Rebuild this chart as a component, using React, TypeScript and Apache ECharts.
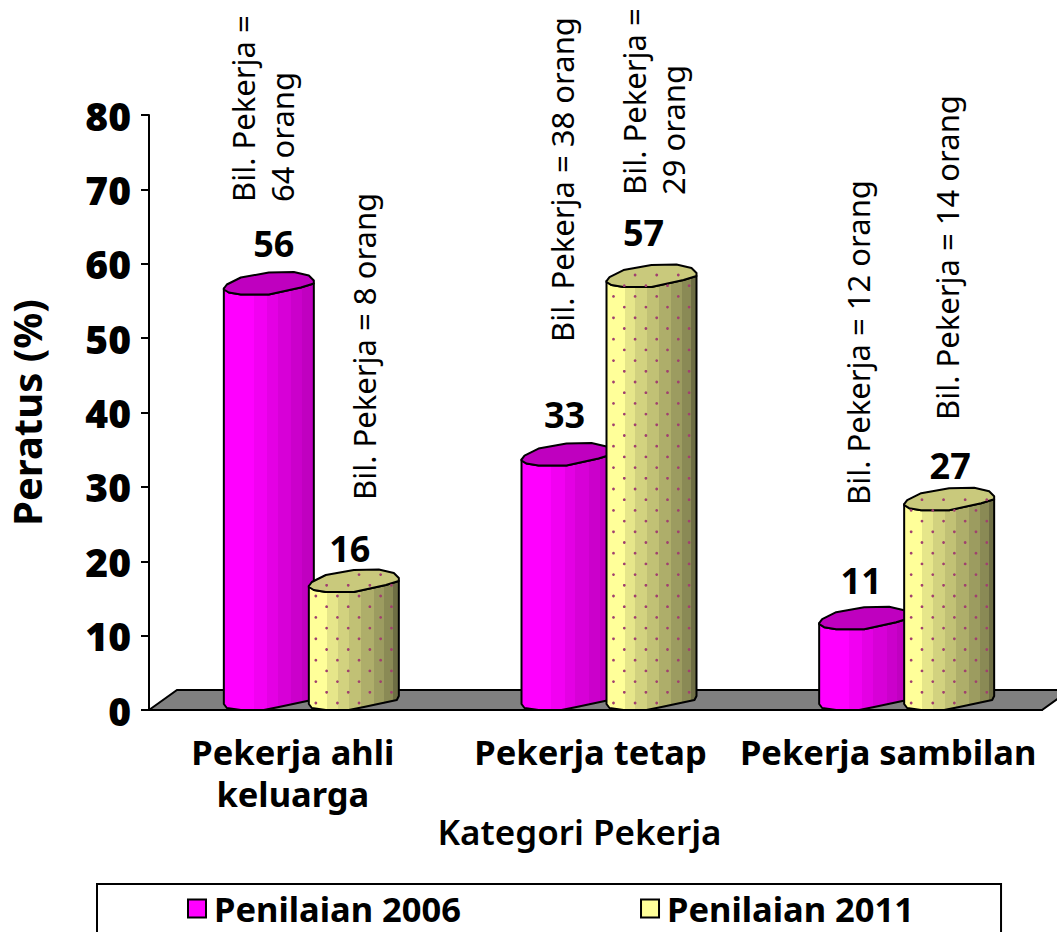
import React, { useEffect, useRef } from "react";
import * as echarts from "echarts";

const categories = ["Pekerja ahli\nkeluarga", "Pekerja tetap", "Pekerja sambilan"];
const seriesNames = ["Penilaian 2006", "Penilaian 2011"];
const values2006 = [56, 33, 11];
const values2011 = [16, 57, 27];
const yTicks = { min: 0, max: 80, interval: 10 };
const notes = [
  "Bil. Pekerja =\n64 orang",
  "Bil. Pekerja = 8 orang",
  "Bil. Pekerja = 38 orang",
  "Bil. Pekerja =\n29 orang",
  "Bil. Pekerja = 12 orang",
  "Bil. Pekerja = 14 orang",
];
const noteAnchors = [
  [262, 202],
  [364, 500],
  [562, 342],
  [653, 195],
  [858, 505],
  [947, 420],
];
const labelShift2006 = [[50, -50], [43, -50], [42, -48]];
const labelShift2011 = [[41, -43], [37, -54], [46, -44]];

const SANS = "'Noto Sans', sans-serif";

const topOutline = [[0, -5], [3, -9], [17, -16], [45, -21], [70, -21.5], [85, -18], [90, -13], [90, -10], [77, -6], [45, 1], [17, 1], [5, -1], [0, -4]];
const baseOutline = [[90, -14], [88, -10], [55, -3], [40, 0], [17, 0], [3, -2], [0, -6]];

const magentaStops = [[0, "#ff00ff"], [0.33, "#ff00ff"], [0.33, "#f200f2"], [0.48, "#f200f2"], [0.48, "#e400e4"], [0.6, "#e400e4"], [0.6, "#d700d7"], [0.75, "#d700d7"], [0.75, "#cb00cb"], [0.87, "#cb00cb"], [0.87, "#c000c0"], [1, "#c000c0"]];
const yellowStops = [[0, "#ffff99"], [0.2, "#ffff99"], [0.2, "#e6e68a"], [0.32, "#e6e68a"], [0.32, "#d2d27f"], [0.45, "#d2d27f"], [0.45, "#c1c175"], [0.58, "#c1c175"], [0.58, "#aeae6a"], [0.72, "#aeae6a"], [0.72, "#9c9c60"], [0.84, "#9c9c60"], [0.84, "#8a8a55"], [0.94, "#8a8a55"], [0.94, "#6e6e44"], [1, "#6e6e44"]];

function gradient(stops: any[]) {
  return {
    type: "linear", x: 0, y: 0, x2: 1, y2: 0,
    colorStops: stops.map((s: any[]) => ({ offset: s[0], color: s[1] })),
  };
}

function interpolate(x: number, pts: number[][]) {
  for (let i = 0; i < pts.length - 1; i++) {
    const [a, b] = [pts[i], pts[i + 1]];
    if (x >= a[0] && x <= b[0]) return a[1] + ((b[1] - a[1]) * (x - a[0])) / (b[0] - a[0] || 1);
  }
  return pts[pts.length - 1][1];
}

function cylinder(params: any, api: any, second: boolean) {
  const value = api.value(1);
  const cat = api.value(0);
  const center = api.coord([cat, 0])[0];
  const x0 = second ? center + 11 : center - 74;
  const y0 = api.coord([cat, 0])[1];
  const yv = api.coord([cat, value])[1];
  const top = topOutline.map(([x, y]) => [x0 + x, yv + y]);
  const upperEdge = [[0, -5], [3, -9], [17, -16], [45, -21], [70, -21.5], [85, -18], [90, -13]];
  const body = [
    ...[[0, -5], [5, -1], [17, 1], [45, 1], [77, -6], [90, -10]].map(([x, y]) => [x0 + x, yv + y]),
    ...baseOutline.map(([x, y]) => [x0 + x, y0 + y]),
  ];
  const children: any[] = [
    { type: "polygon", shape: { points: body }, style: { fill: gradient(second ? yellowStops : magentaStops), stroke: "#000", lineWidth: 2, lineJoin: "round" } },
    { type: "polygon", shape: { points: top }, style: { fill: second ? "#c9c97c" : "#bf00bf", stroke: "#000", lineWidth: 2, lineJoin: "round" } },
  ];
  if (second) {
    const bottomPts = [[0, -6], [3, -2], [17, 0], [40, 0], [55, -3], [88, -10], [90, -14]];
    for (let c = 0; c < 8; c++) {
      const cx = 7 + c * 10.8;
      const upper = yv + interpolate(cx, upperEdge) + 4;
      const lower = y0 + interpolate(cx, bottomPts) - 3;
      for (let r = 0; r < 70; r++) {
        const cy = y0 - 7 - (c % 2 ? 10.7 : 0) - r * 21.4;
        if (cy < upper) break;
        if (cy > lower) continue;
        children.push({ type: "circle", shape: { cx: x0 + cx, cy, r: 1.4 }, style: { fill: "#a0406f" } });
      }
    }
  }
  const shift = (second ? labelShift2011 : labelShift2006)[cat];
  children.push({
    type: "text",
    x: x0 + shift[0],
    y: yv + shift[1],
    style: { text: String(value), fill: "#000", font: `bold 36px ${SANS}`, align: "center", verticalAlign: "middle" },
  });
  return { type: "group", children };
}

function floor(params: any, api: any) {
  const cs = params.coordSys;
  const bottom = cs.y + cs.height;
  const right = cs.x + cs.width;
  return {
    type: "polygon",
    shape: { points: [[cs.x, bottom], [cs.x + 28, bottom - 20], [right + 28, bottom - 20], [right, bottom]] },
    style: { fill: "#808080", stroke: "#000", lineWidth: 2 },
  };
}

export default function App() {
  const ref = useRef<HTMLDivElement>(null);
  useEffect(() => {
    const chart = echarts.init(ref.current!, undefined, { renderer: "svg" });
    chart.setOption({
      animation: false,
      grid: { left: 149, top: 115, width: 893, height: 595, containLabel: false, outerBoundsMode: "none" },
      xAxis: {
        type: "category",
        data: categories,
        name: "Kategori Pekerja",
        nameLocation: "middle",
        nameMoveOverlap: false,
        nameGap: 104,
        nameTextStyle: { fontFamily: SANS, fontWeight: 600, fontSize: 35, color: "#000", padding: [0, 32, 0, 0] },
        axisLine: { lineStyle: { color: "#000", width: 2 } },
        axisTick: { length: 7, lineStyle: { color: "#000", width: 2 } },
        axisLabel: { fontFamily: SANS, fontWeight: "bold", fontSize: 34.5, color: "#000", margin: 20, lineHeight: 42, interval: 0, padding: [0, 10, 0, 0] },
        z: 5,
      },
      yAxis: {
        type: "value",
        ...yTicks,
        name: "Peratus (%)",
        nameLocation: "middle",
        nameGap: 103,
        nameTextStyle: { fontFamily: SANS, fontWeight: "bold", fontSize: 40, color: "#000" },
        splitLine: { show: false },
        axisLine: { show: true, lineStyle: { color: "#000", width: 2 } },
        axisTick: { show: true, length: 8, lineStyle: { color: "#000", width: 2 } },
        axisLabel: { fontFamily: SANS, fontWeight: 900, fontSize: 39, color: "#000", margin: 18 },
      },
      legend: {
        left: 97,
        top: 884,
        data: [
          { name: seriesNames[0], itemStyle: { color: "#ff00ff", borderColor: "#000", borderWidth: 2 } },
          { name: seriesNames[1], itemStyle: { color: "#ffff99", borderColor: "#000", borderWidth: 2 } },
        ],
        icon: "rect",
        itemWidth: 18,
        itemHeight: 18,
        itemGap: 179,
        padding: [7, 87, 30, 90],
        borderColor: "#000",
        borderWidth: 2,
        textStyle: { fontFamily: SANS, fontWeight: "bold", fontSize: 34.5, color: "#000", padding: [0, 0, 0, 3] },
      },
      graphic: notes.map((text, i) => ({
        type: "text",
        x: noteAnchors[i][0],
        y: noteAnchors[i][1],
        rotation: Math.PI / 2,
        style: { text, fill: "#000", font: `31px ${SANS}`, align: "left", verticalAlign: "middle", lineHeight: 39 },
      })),
      series: [
        { type: "custom", silent: true, coordinateSystem: "cartesian2d", data: [[0, 0]], renderItem: floor, clip: false, z: 1 },
        { type: "custom", name: seriesNames[0], coordinateSystem: "cartesian2d", data: values2006.map((v, i) => [i, v]), renderItem: (p: any, a: any) => cylinder(p, a, false), clip: false, z: 2 },
        { type: "custom", name: seriesNames[1], coordinateSystem: "cartesian2d", data: values2011.map((v, i) => [i, v]), renderItem: (p: any, a: any) => cylinder(p, a, true), clip: false, z: 3 },
      ],
    });
    return () => chart.dispose();
  }, []);
  return <div ref={ref} style={{ position: "absolute", left: 0, top: 0, width: 1057, height: 932, overflow: "hidden" }} />;
}
